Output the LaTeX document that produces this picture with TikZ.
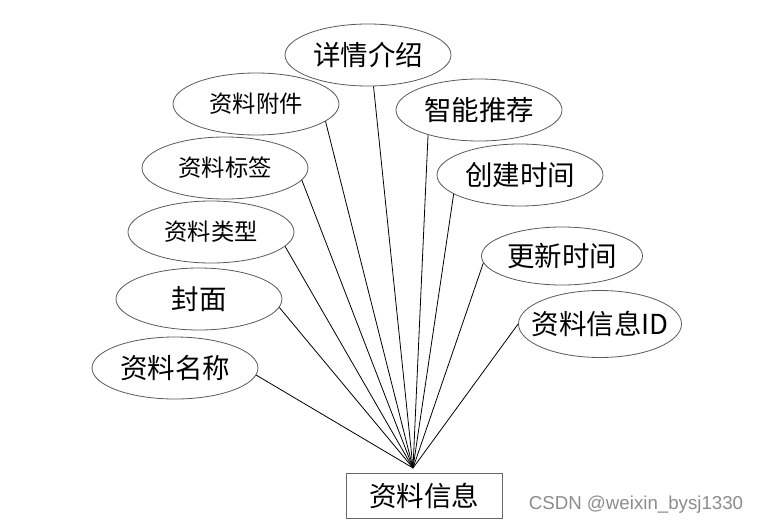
\documentclass[tikz,border=0pt]{standalone}
\usepackage{fontspec}
\newfontfamily\cjk{Noto Sans CJK SC}
\newfontfamily\wmfont{Liberation Sans}
\usetikzlibrary{shapes.geometric}
\tikzset{
  attr/.style={ellipse,draw=black!65,line width=0.8pt,minimum width=166pt,minimum height=62pt,inner sep=0pt,font=\cjk\fontsize{27.5}{30}\selectfont},
  sattr/.style={attr,font=\cjk\fontsize{23.3}{26}\selectfont},
  entity/.style={rectangle,draw=black!60,line width=1pt,minimum width=156pt,minimum height=45pt,inner sep=0pt,font=\cjk\fontsize{27.5}{30}\selectfont}
}
\begin{document}
\begin{tikzpicture}[x=1pt,y=-1pt]
  \useasboundingbox (0,0) rectangle (760,525);
  \draw
    (424,495.5) node[entity] (info){资料信息}
    (368,55) node[attr] (detail){详情介绍}
    (256,104) node[sattr] (attach){资料附件}
    (225,168) node[sattr] (tag){资料标签}
    (211,232) node[sattr] (type){资料类型}
    (199,299) node[attr] (cover){封面}
    (175,368) node[attr] (title){资料名称}
    (479,110) node[attr] (recom){智能推荐}
    (520,175) node[attr] (ctime){创建时间}
    (562,256) node[attr,minimum width=161pt,minimum height=58pt] (utime){更新时间}
    (600,324) node[attr,inner xsep=-11pt,minimum width=163pt,minimum height=67pt] (id){资料信息ID};
  \coordinate (hub) at (413,468);
  \node[font=\wmfont\fontsize{18.7}{20}\selectfont,text=black!45] (csdn) at (636,505) {CSDN @weixin\_bysj1330};
  \begin{scope}[line width=0.8pt]
    \draw (hub) to (title.-5);
    \draw (hub) to (cover.-6);
    \draw (hub) to (type.-11);
    \draw (hub) to (tag.-9);
    \draw (hub) to (attach.-14);
    \draw (hub) to (detail.-80);
    \draw (hub) to (recom.-154);
    \draw (hub) to (ctime.-164);
    \draw (hub) to (utime.-175);
    \draw (hub) to (id.180);
  \end{scope}
\end{tikzpicture}
\end{document}
